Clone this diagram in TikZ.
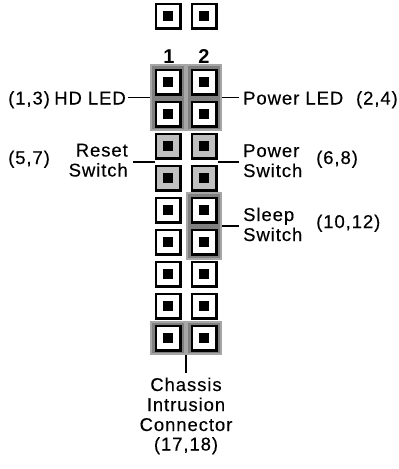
\documentclass[tikz,border=0pt]{standalone}
\usepackage{fontspec}
\setmainfont{Liberation Sans}
\newfontfamily\labfont{Liberation Sans}[LetterSpace=5, FakeBold=0.3]
\usetikzlibrary{calc}
\definecolor{boxfill}{HTML}{808080}
\definecolor{boxedge}{HTML}{A6A6A6}
\definecolor{pingray}{HTML}{C0C0C0}
\tikzset{
  pin/.style={draw=black, line width=2.8pt, fill=white, minimum size=24.2pt, inner sep=0pt,
    path picture={\fill[black] ($(path picture bounding box.center)+(-5.2,-5.2)$) rectangle ($(path picture bounding box.center)+(5.2,5.2)$);}},
  graypin/.style={pin, fill=pingray},
  grpbox/.style={draw=boxedge, fill=boxfill, line width=1.6pt, minimum width=34.4pt, inner sep=0pt},
  conn/.style={draw=black, line width=1.3pt},
  lbl/.style={font=\labfont\fontsize{18.5}{20}\selectfont, inner sep=0pt, text=black},
  numlbl/.style={font=\bfseries\fontsize{20}{20}\selectfont, inner sep=0pt, anchor=base}
}
\begin{document}
\begin{tikzpicture}[x=1pt,y=-1pt]
\useasboundingbox[fill=white] (0,0) rectangle (399,469);
% group boxes
\node[grpbox, minimum height=65.4pt] (hdbox) at (168,97.5) {};
\node[grpbox, minimum height=65.4pt] (plbox) at (204,97.5) {};
\node[grpbox, minimum height=66.4pt] (slbox) at (204,226) {};
\node[grpbox, minimum height=32.4pt] (chl) at (168,338) {};
\node[grpbox, minimum height=32.4pt] (chr) at (204,338) {};
% pins
\node[pin] (t1) at (168,16) {};
\node[pin] (t2) at (204,16) {};
\foreach \r/\y in {1/82,2/114,5/210,6/242,7/274,8/306,9/338}{
  \pgfmathtruncatemacro{\a}{2*\r-1}
  \pgfmathtruncatemacro{\b}{2*\r}
  \node[pin] (p\a) at (168,\y) {};
  \node[pin] (p\b) at (204,\y) {};
}
\foreach \r/\y in {3/146,4/178}{
  \pgfmathtruncatemacro{\a}{2*\r-1}
  \pgfmathtruncatemacro{\b}{2*\r}
  \node[graypin] (p\a) at (168,\y) {};
  \node[graypin] (p\b) at (204,\y) {};
}
% column numbers
\node[numlbl] (n1) at (169,63) {1};
\node[numlbl] (n2) at (204,63) {2};
% labels
\node[lbl, anchor=base east] (hd) at (126,104.5) {HD LED};
\node[lbl, anchor=base west] (hdn) at (8,104.5) {(1,3)};
\node[lbl, anchor=base west] (pl) at (243,104.5) {Power LED};
\node[lbl, anchor=base east] (pln) at (398,104.5) {(2,4)};
\node[lbl, anchor=base east] (rs1) at (128,156.5) {Reset};
\node[lbl, anchor=base east] (rs2) at (128,176.5) {Switch};
\node[lbl, anchor=base west] (rsn) at (8,164) {(5,7)};
\node[lbl, anchor=base west] (ps1) at (243,157) {Power};
\node[lbl, anchor=base west] (ps2) at (243,177) {Switch};
\node[lbl, anchor=base west] (psn) at (316,164) {(6,8)};
\node[lbl, anchor=base west] (sl1) at (243,221) {Sleep};
\node[lbl, anchor=base west] (sl2) at (243,241) {Switch};
\node[lbl, anchor=base west] (sln) at (316,228) {(10,12)};
\node[lbl, anchor=base] (c1) at (186,391) {Chassis};
\node[lbl, anchor=base] (c2) at (186,411) {Intrusion};
\node[lbl, anchor=base] (c3) at (186,431) {Connector};
\node[lbl, anchor=base] (c4) at (186,450.5) {(17,18)};
% connector ends
\coordinate (hdend) at (128,97.5);
\coordinate (plend) at (239,97.5);
\coordinate (rsend) at (133,162);
\coordinate (psend) at (239,162);
\coordinate (slend) at (239,226);
\coordinate (chend) at (186,373);
% connectors
\draw[conn] (hdbox.west) -- (hdend);
\draw[conn] (plbox.east) -- (plend);
\draw[conn] ($(p5.west)!0.5!(p7.west)$) -- (rsend);
\draw[conn] ($(p6.east)!0.5!(p8.east)$) -- (psend);
\draw[conn] (slbox.east) -- (slend);
\draw[conn] (chl.south east) -- (chend);
\end{tikzpicture}
\end{document}
